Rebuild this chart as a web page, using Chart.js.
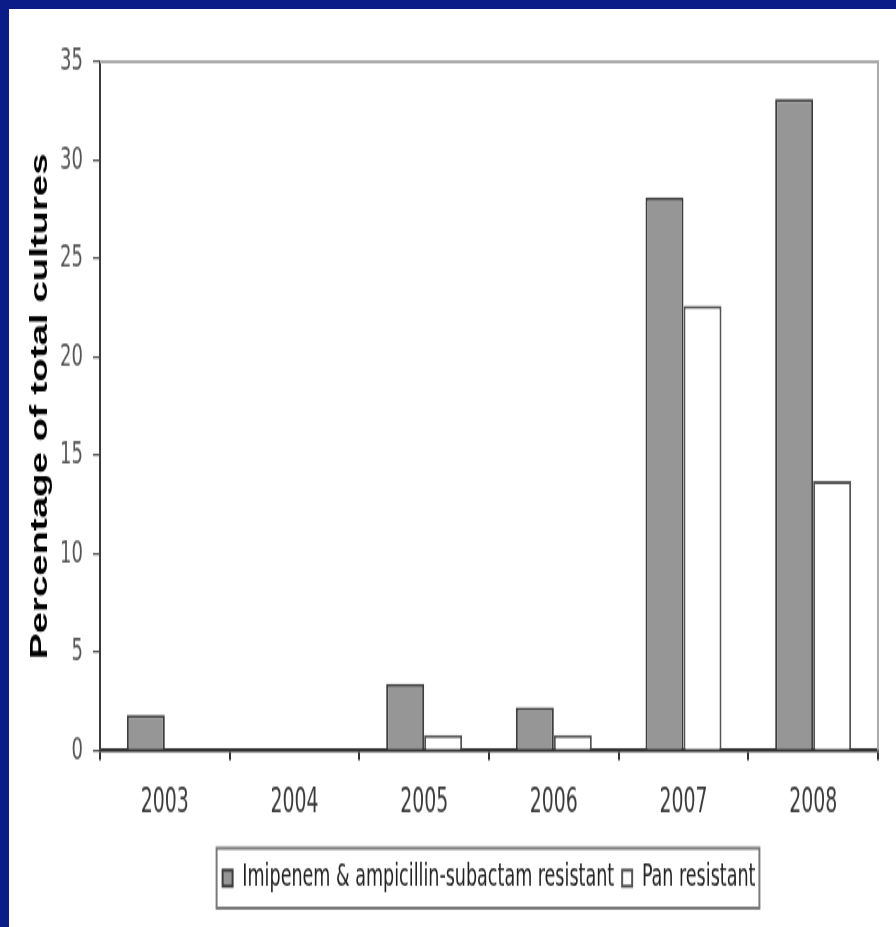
<!DOCTYPE html>
<html>
<head>
<meta charset="utf-8">
<script src="https://cdn.jsdelivr.net/npm/chart.js@4.4.1/dist/chart.umd.min.js"></script>
<style>
    html, body { margin: 0; padding: 0; background: #fff; }
    body { width: 896px; height: 927px; overflow: hidden; position: relative; }
    .navyTop { position: absolute; left: 0; top: 0; width: 896px; height: 9px; background: #0b1c88; }
    .navyLeft { position: absolute; left: 0; top: 0; width: 9px; height: 927px; background: #0b1c88; }
    /* the source picture is stretched vertically, so the chart is drawn flat and scaled */
    .wrap { position: absolute; left: 9px; top: 9px; width: 887px; height: 574px;
            transform: scaleY(1.6); transform-origin: 0 0; }
</style>
</head>
<body>
<div class="navyTop"></div>
<div class="navyLeft"></div>
<div class="wrap"><canvas id="resistChart" width="887" height="574"></canvas></div>
<script>
// -- DATA --
const years = ['2003', '2004', '2005', '2006', '2007', '2008'];
const imipenemAmpSul = [1.8, 0, 3.4, 2.2, 28.1, 33.1];
const panResistant = [0, 0, 0.8, 0.8, 22.6, 13.7];
const yTicks = [0, 5, 10, 15, 20, 25, 30, 35];

const NARROW = "'Liberation Sans Narrow', 'DejaVu Sans Condensed', 'Liberation Sans', sans-serif";

// top/right frame of plot + legend border
const framePlugin = {
    id: 'frame',
    beforeDatasetsDraw(chart) {
        const { ctx, chartArea: a } = chart;
        ctx.save();
        ctx.strokeStyle = '#ababab';
        ctx.lineWidth = 2;
        ctx.beginPath();
        ctx.moveTo(a.left, a.top);
        ctx.lineTo(a.right, a.top);
        ctx.lineTo(a.right, a.bottom);
        ctx.stroke();
        ctx.restore();
    },
    afterDraw(chart) {
        const lg = chart.legend;
        if (!lg || !lg.legendHitBoxes.length) return;
        const boxes = lg.legendHitBoxes;
        const l = Math.min(...boxes.map(b => b.left)) - 6;
        const r = Math.max(...boxes.map(b => b.left + b.width)) + 4;
        const t = Math.min(...boxes.map(b => b.top)) - 9;
        const btm = Math.max(...boxes.map(b => b.top + b.height)) + 9;
        const ctx = chart.ctx;
        ctx.save();
        ctx.strokeStyle = '#7a7a7a';
        ctx.lineWidth = 2;
        ctx.strokeRect(l, t, r - l, btm - t);
        ctx.restore();
    }
};

new Chart(document.getElementById('resistChart').getContext('2d'), {
    type: 'bar',
    data: {
        labels: years,
        datasets: [{
            label: 'Imipenem & ampicillin-subactam resistant',
            data: imipenemAmpSul,
            backgroundColor: '#969696',
            borderColor: '#3e3e3e',
            borderWidth: 2,
            categoryPercentage: 0.586,
            barPercentage: 1
        }, {
            label: 'Pan resistant',
            data: panResistant,
            backgroundColor: '#ffffff',
            borderColor: '#555555',
            borderWidth: 2,
            categoryPercentage: 0.586,
            barPercentage: 1
        }]
    },
    options: {
        responsive: false,
        animation: false,
        devicePixelRatio: 1,
        layout: { padding: { top: 33, right: 18, bottom: 11, left: 0 } },
        plugins: {
            tooltip: { enabled: false },
            legend: {
                position: 'bottom',
                fullSize: false,
                labels: {
                    boxWidth: 10,
                    boxHeight: 10,
                    padding: 8,
                    color: '#222',
                    font: { family: NARROW, size: 19.5 }
                }
            }
        },
        scales: {
            x: {
                grid: { offset: true, drawOnChartArea: false, tickLength: 6, color: '#333', lineWidth: 2 },
                border: { color: '#333', width: 2.5 },
                ticks: { color: '#3a3a3a', padding: 14, font: { family: NARROW, size: 21 } },
                afterFit(s) { s.height = 62; }
            },
            y: {
                min: 0,
                max: 35,
                afterBuildTicks(s) { s.ticks = yTicks.map(v => ({ value: v })); },
                grid: { drawOnChartArea: false, tickLength: 7, color: '#555', lineWidth: 1.3 },
                border: { color: '#3c3c3c', width: 2 },
                ticks: { color: '#555', padding: 10, font: { family: NARROW, size: 20 } },
                title: {
                    display: true,
                    text: 'Percentage of total cultures',
                    color: '#000',
                    padding: { top: 17, bottom: 0 },
                    font: { family: "'Liberation Sans', Arial, sans-serif", size: 24, weight: 'bold' }
                },
                afterFit(s) { s.width = 91; }
            }
        }
    },
    plugins: [framePlugin]
});
</script>
</body>
</html>
